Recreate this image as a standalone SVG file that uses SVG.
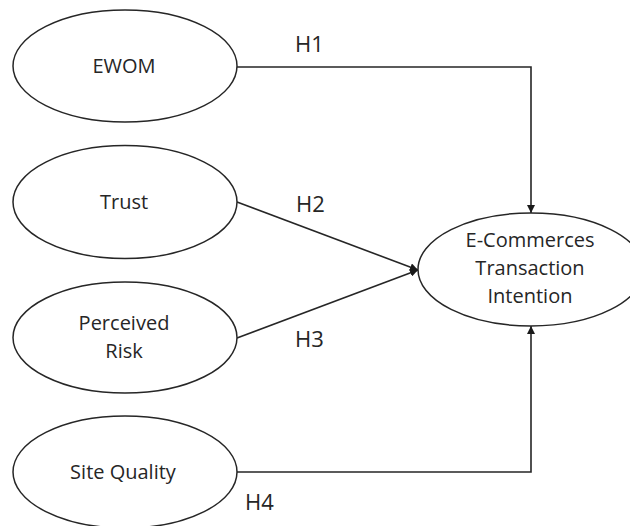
<svg xmlns="http://www.w3.org/2000/svg" width="630" height="526" viewBox="0 0 630 526">
  <style>
    .node ellipse { fill: #ffffff; stroke: #262626; stroke-width: 1.5; }
    .node text { font-family: "Open Sans", "Liberation Sans", sans-serif; font-size: 20px; fill: #262626; text-anchor: middle; }
    .edge { fill: none; stroke: #262626; stroke-width: 1.6; }
    .hlabel { font-family: "Open Sans", "Liberation Sans", sans-serif; font-size: 22px; fill: #262626; }
  </style>
  <defs>
    <marker id="arrow" viewBox="0 0 10 10" refX="10" refY="5" markerWidth="5" markerHeight="5" orient="auto" markerUnits="strokeWidth">
      <path d="M0,0 L10,5 L0,10 z" fill="#1a1a1a"/>
    </marker>
  </defs>
  <rect width="630" height="526" fill="#ffffff"/>

  <!-- connectors -->
  <g id="connectors">
    <polyline class="edge" points="237,67 531,67 531,213" marker-end="url(#arrow)"/>
    <line class="edge" x1="237" y1="202" x2="418" y2="270" marker-end="url(#arrow)"/>
    <line class="edge" x1="237" y1="338" x2="418" y2="270" marker-end="url(#arrow)"/>
    <polyline class="edge" points="237,472 531,472 531,326" marker-end="url(#arrow)"/>
    <text class="hlabel" x="295" y="52">H1</text>
    <text class="hlabel" x="296" y="212">H2</text>
    <text class="hlabel" x="295" y="347">H3</text>
    <text class="hlabel" x="245" y="510">H4</text>
  </g>

  <!-- constructs -->
  <g id="ewom" class="node">
    <ellipse cx="125" cy="66" rx="112" ry="56"/>
    <text x="124" y="73">EWOM</text>
  </g>
  <g id="trust" class="node">
    <ellipse cx="125" cy="202" rx="112" ry="56.5"/>
    <text x="124" y="209">Trust</text>
  </g>
  <g id="perceived-risk" class="node">
    <ellipse cx="125" cy="337.5" rx="112" ry="55.5"/>
    <text x="124" y="330">Perceived</text>
    <text x="124" y="358">Risk</text>
  </g>
  <g id="site-quality" class="node">
    <ellipse cx="125" cy="472" rx="112" ry="56"/>
    <text x="123" y="479">Site Quality</text>
  </g>
  <g id="intention" class="node">
    <ellipse cx="531" cy="269.5" rx="113" ry="56.5"/>
    <text x="530" y="247">E-Commerces</text>
    <text x="530" y="275">Transaction</text>
    <text x="530" y="303">Intention</text>
  </g>
</svg>
